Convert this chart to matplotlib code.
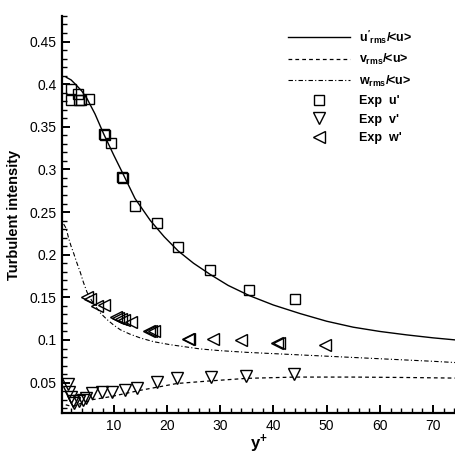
import matplotlib
matplotlib.use("Agg")
import matplotlib.pyplot as plt
from matplotlib.ticker import MultipleLocator, FormatStrFormatter

plt.rcParams['font.family'] = ['Liberation Sans', 'DejaVu Sans']
plt.rcParams['mathtext.fontset'] = 'custom'
plt.rcParams['mathtext.rm'] = 'Liberation Sans:bold'
plt.rcParams['mathtext.it'] = 'Liberation Sans:bold'
plt.rcParams['mathtext.bf'] = 'Liberation Sans:bold'

# simulation profiles
u_y = [1.1, 2.0, 2.8, 4.0, 5.0, 6.5, 8.1, 10.0, 11.9, 14.0, 16.9, 19.5, 22.1, 25.0, 28.1,
       31.5, 35.5, 40.0, 45.0, 50.0, 55.0, 60.0, 65.0, 70.0, 74.3]
u_rms = [0.408, 0.405, 0.400, 0.392, 0.383, 0.365, 0.342, 0.317, 0.293, 0.266, 0.240, 0.221,
         0.2045, 0.190, 0.177, 0.164, 0.152, 0.141, 0.131, 0.122, 0.115, 0.110, 0.106, 0.1025, 0.100]

v_y = [1.0, 2.2, 4.0, 6.0, 9.4, 12.0, 15.0, 18.5, 21.9, 25.0, 28.1, 35.0, 44.0, 55.0, 65.0, 74.3]
v_rms = [0.024, 0.022, 0.026, 0.030, 0.0335, 0.037, 0.041, 0.045, 0.049, 0.0505, 0.052, 0.055,
         0.0565, 0.0565, 0.056, 0.0553]

w_y = [0.6, 1.07, 1.56, 2.0, 2.5, 3.0, 3.75, 4.3, 5.0, 5.8, 6.56, 7.6, 8.75, 10.0, 11.25, 13.0,
       15.0, 17.5, 20.6, 26.25, 30.0, 35.0, 40.0, 45.0, 50.0, 55.0, 60.0, 65.0, 70.0, 74.3]
w_rms = [0.236, 0.231, 0.219, 0.210, 0.2015, 0.192, 0.179, 0.168, 0.156, 0.147, 0.1396, 0.131,
         0.124, 0.1175, 0.112, 0.107, 0.1024, 0.098, 0.0945, 0.0895, 0.0875, 0.0855, 0.084, 0.0825,
         0.081, 0.0795, 0.078, 0.0765, 0.075, 0.0735]

# experiments
exp_u_y = [1.9, 2.0, 3.25, 3.4, 3.9, 5.3, 8.25, 8.4, 9.5, 11.5, 11.75, 14.0, 18.1, 22.1, 28.1, 35.4, 44.1]
exp_u = [0.394, 0.381, 0.389, 0.381, 0.381, 0.3825, 0.341, 0.340, 0.331, 0.291, 0.290, 0.257,
         0.237, 0.209, 0.182, 0.159, 0.1485]

exp_v_y = [1.4, 1.6, 1.9, 2.3, 2.6, 3.4, 4.2, 4.8, 5.9, 7.8, 9.7, 12.2, 14.4, 18.1, 21.9, 28.3, 34.9, 43.9]
exp_v = [0.0485, 0.039, 0.0335, 0.028, 0.026, 0.029, 0.030, 0.032, 0.0375, 0.039, 0.039, 0.0414,
         0.0434, 0.0512, 0.0552, 0.0564, 0.058, 0.060]

exp_w_y = [4.9, 5.6, 6.9, 8.1, 10.4, 10.8, 11.4, 12.0, 13.2, 16.6, 17.0, 17.5, 23.9, 24.1, 28.6,
           33.9, 40.7, 41.0, 49.7]
exp_w = [0.1505, 0.148, 0.140, 0.1415, 0.127, 0.126, 0.125, 0.123, 0.121, 0.111, 0.111, 0.110,
         0.101, 0.101, 0.1015, 0.0995, 0.0965, 0.0965, 0.0945]

fig = plt.figure(figsize=(4.56, 4.55), dpi=100)
ax = fig.add_axes([0.136, 0.0916, 0.864, 0.8734])

ax.plot(u_y, u_rms, color='k', lw=1.0, label=r"$u'_{rms}$/<u>")
ax.plot(v_y, v_rms, color='k', lw=0.9, ls=(0, (3, 2.5)), label=r"$v_{rms}$/<u>")
ax.plot(w_y, w_rms, color='k', lw=0.8, ls=(0, (4, 2, 1, 2)), label=r"$w_{rms}$/<u>")
ax.plot(exp_u_y, exp_u, ls='none', marker='s', ms=7, mfc='none', mec='k', mew=1.0, label="Exp  u'")
ax.plot(exp_v_y, exp_v, ls='none', marker='v', ms=8, mfc='none', mec='k', mew=1.0, label="Exp  v'")
ax.plot(exp_w_y, exp_w, ls='none', marker='<', ms=8, mfc='none', mec='k', mew=1.0, label="Exp  w'")

ax.set_xlim(0.3, 74.3)
ax.set_ylim(0.014, 0.48)
ax.xaxis.set_major_locator(MultipleLocator(10))
ax.xaxis.set_minor_locator(MultipleLocator(2))
ax.yaxis.set_major_locator(MultipleLocator(0.05))
ax.yaxis.set_minor_locator(MultipleLocator(0.01))
ax.yaxis.set_major_formatter(FormatStrFormatter('%g'))

for s in ['top', 'right']:
    ax.spines[s].set_visible(False)
for s in ['left', 'bottom']:
    ax.spines[s].set_linewidth(1.6)
ax.tick_params(which='major', direction='in', length=6, width=1.4, labelsize=10, pad=4)
ax.tick_params(which='minor', direction='in', length=3.5, width=1.0)

ax.set_ylabel('Turbulent intensity', fontsize=10.5, fontweight='bold', labelpad=6)
ax.set_xlabel(r'$y^{+}$', fontsize=12, labelpad=0)

leg = ax.legend(loc='upper left', frameon=False, handlelength=5.0, handletextpad=0.7,
                labelspacing=0.52, prop={'weight': 'bold', 'size': 9},
                bbox_to_anchor=(0.545, 0.997))

fig.savefig('out.png', dpi=100)
